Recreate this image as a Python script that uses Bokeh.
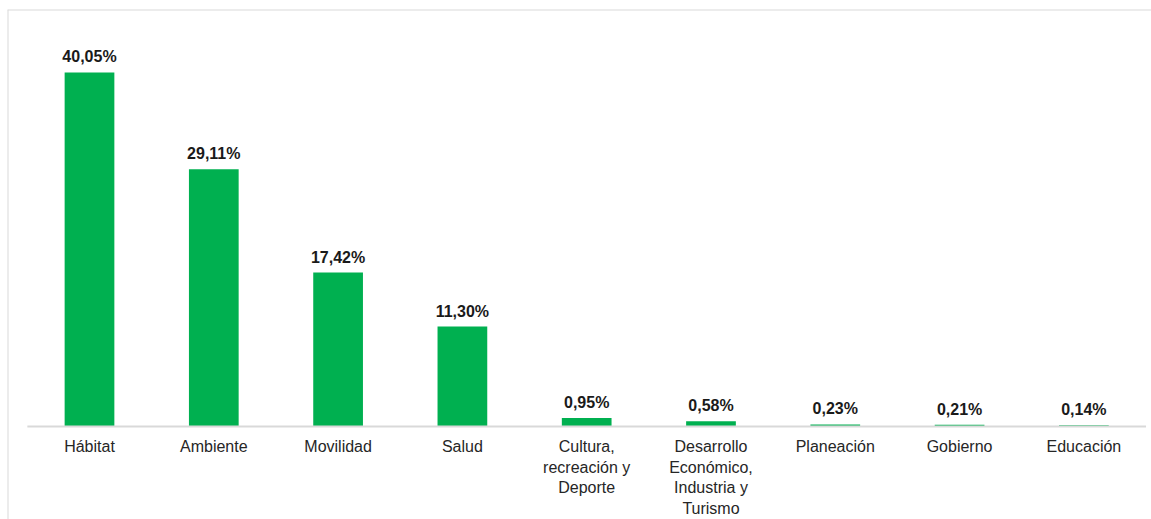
from bokeh.plotting import figure
from bokeh.models import ColumnDataSource, Range1d, Span
from bokeh.core.properties import value
from bokeh.embed import file_html
from bokeh.resources import INLINE

categories = ["Hábitat", "Ambiente", "Movilidad", "Salud",
              "Cultura,\nrecreación y\nDeporte",
              "Desarrollo\nEconómico,\nIndustria y\nTurismo",
              "Planeación", "Gobierno", "Educación"]
values = [40.05, 29.11, 17.42, 11.30, 0.95, 0.58, 0.23, 0.21, 0.14]
value_labels = [("%.2f%%" % v).replace(".", ",") for v in values]

xs = list(range(len(categories)))
src = ColumnDataSource(dict(x=xs, v=values, lab=value_labels, cat=categories,
                            zero=[0] * len(xs)))

xr = Range1d(-0.6597, 8.544)
yr = Range1d(-10.52, 47.17)
p = figure(width=1151, height=519, output_backend="svg", toolbar_location=None,
           x_range=xr, y_range=yr,
           min_border=0, min_border_left=7, min_border_right=0,
           min_border_top=9, min_border_bottom=0)
p.axis.visible = False
p.grid.visible = False
p.outline_line_color = None
p.background_fill_color = "white"
p.border_fill_color = "white"

# panel border (left and top)
p.add_layout(Span(location=xr.start, dimension="height",
                  line_color="#d9d9d9", line_width=2))
p.add_layout(Span(location=yr.end, dimension="width",
                  line_color="#d9d9d9", line_width=2))

p.vbar(x="x", top="v", bottom=0, width=0.4, source=src,
       fill_color="#00B050", line_color=None)

# category baseline
p.segment(x0=[-0.5], y0=[0], x1=[len(categories) - 0.5], y1=[0],
          line_color="#d9d9d9", line_width=2)

p.text(x="x", y="v", text="lab", source=src, text_align="center",
       text_baseline="bottom", y_offset=-7,
       text_font=value("Liberation Sans"), text_font_style="bold",
       text_font_size="16px", text_color="#1a1a1a")

p.text(x="x", y="zero", text="cat", source=src, text_align="center",
       text_baseline="top", y_offset=12, text_line_height=1.2,
       text_font=value("Liberation Sans"),
       text_font_size="16px", text_color="#262626")

open("out.html", "w").write(file_html(p, INLINE))
